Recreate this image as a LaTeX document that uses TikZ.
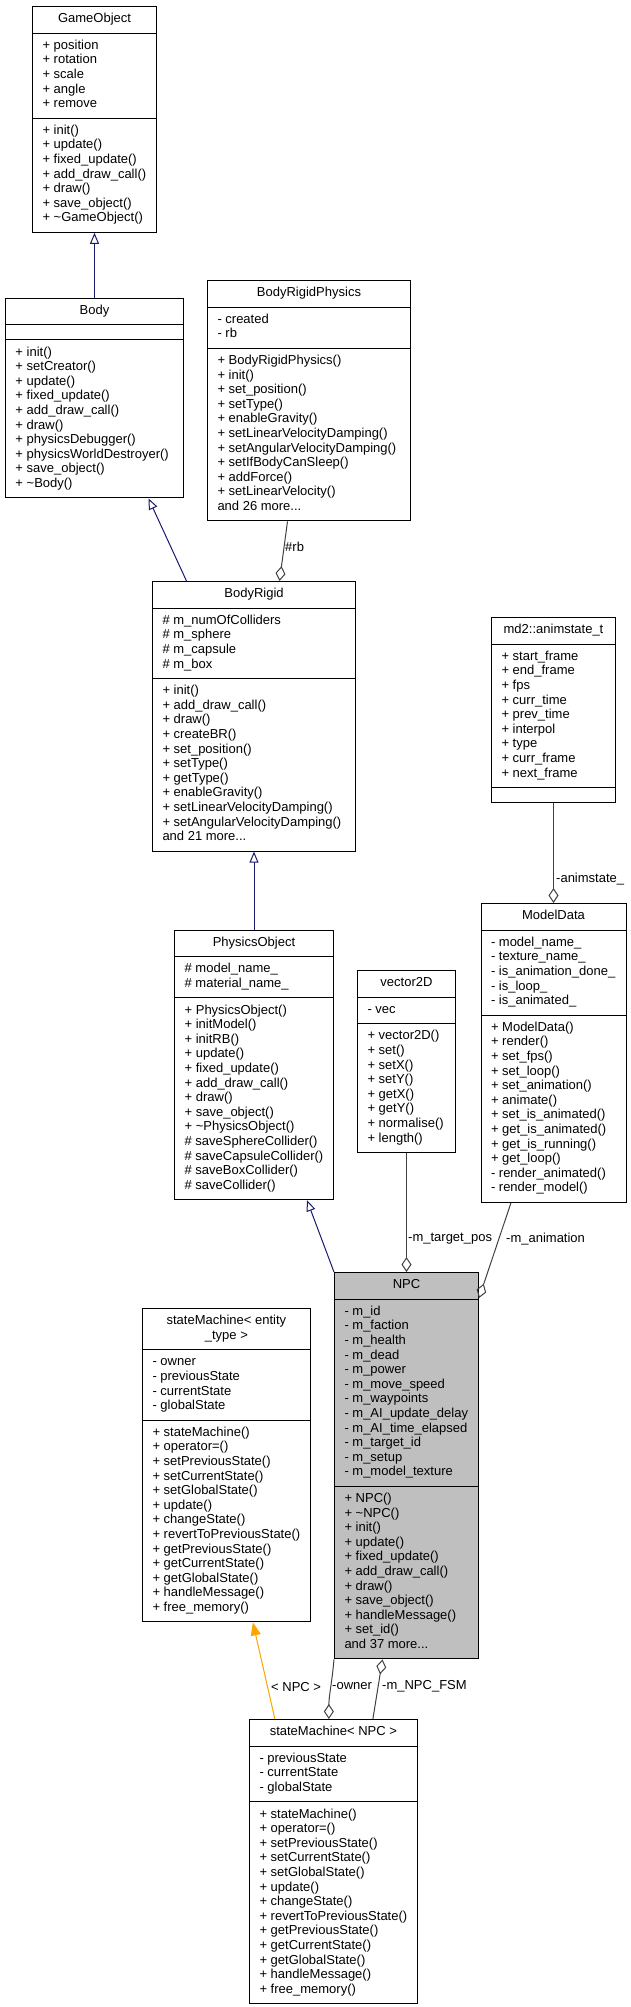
\documentclass[tikz,border=0pt]{standalone}
\usepackage{fontspec}
\setmainfont{Liberation Sans}
\usetikzlibrary{arrows.meta,positioning,shapes.multipart}
\usepackage{xcolor}
\definecolor{Inherit}{HTML}{191970}
\definecolor{Member}{HTML}{404040}
\definecolor{Templ}{HTML}{FFA500}
\definecolor{Focus}{HTML}{BFBFBF}
\newcommand{\members}[1]{\begin{tabular}{@{}l@{}}#1\end{tabular}}
\newcommand{\heading}[1]{\begin{tabular}{@{}c@{}}#1\end{tabular}}

\begin{document}
\begin{tikzpicture}[x=1pt,y=-1pt,
    cls/.style={draw=black,line width=1pt,fill=white,rectangle split,rectangle split parts=3,
      rectangle split part align={center,left,left},inner xsep=10pt,inner ysep=5.5pt,
      anchor=north west,font=\fontsize{13}{14.6}\selectfont},
    focus/.style={cls,fill=Focus},
    lbl/.style={inner sep=0pt,anchor=west,font=\fontsize{13}{14.6}\selectfont},
    inh/.style={-{Triangle[open,length=11pt,width=9pt]},draw=Inherit,line width=1pt},
    agg/.style={{Diamond[open,length=15pt,width=10pt]}-,draw=Member,line width=1pt},
    tpl/.style={-{Triangle[length=13pt,width=10pt]},draw=Templ,fill=Templ,line width=1pt}
  ]
    \useasboundingbox (0,0) rectangle (631,2007);
    % classes
    \node[cls,minimum width=124pt] (gameobject) at (32,6) {\heading{GameObject}\nodepart{two}\members{+ position\\+ rotation\\+ scale\\+ angle\\+ remove}\nodepart{three}\members{+ init()\\+ update()\\+ fixed\_update()\\+ add\_draw\_call()\\+ draw()\\+ save\_object()\\+ \textasciitilde GameObject()}};
    \node[cls,minimum width=178pt,below=65pt of gameobject] (body) {\heading{Body}\nodepart{two}\members{}\nodepart{three}\members{+ init()\\+ setCreator()\\+ update()\\+ fixed\_update()\\+ add\_draw\_call()\\+ draw()\\+ physicsDebugger()\\+ physicsWorldDestroyer()\\+ save\_object()\\+ \textasciitilde Body()}};
    \node[cls,minimum width=203pt] (brp) at (207,280) {\heading{BodyRigidPhysics}\nodepart{two}\members{- created\\- rb}\nodepart{three}\members{+ BodyRigidPhysics()\\+ init()\\+ set\_position()\\+ setType()\\+ enableGravity()\\+ setLinearVelocityDamping()\\+ setAngularVelocityDamping()\\+ setIfBodyCanSleep()\\+ addForce()\\+ setLinearVelocity()\\and 26 more...}};
    \node[cls,minimum width=203pt] (bodyrigid) at (152,581) {\heading{BodyRigid}\nodepart{two}\members{\# m\_numOfColliders\\\# m\_sphere\\\# m\_capsule\\\# m\_box}\nodepart{three}\members{+ init()\\+ add\_draw\_call()\\+ draw()\\+ createBR()\\+ set\_position()\\+ setType()\\+ getType()\\+ enableGravity()\\+ setLinearVelocityDamping()\\+ setAngularVelocityDamping()\\and 21 more...}};
    \node[cls,minimum width=158pt,below=78pt of bodyrigid] (physicsobject) {\heading{PhysicsObject}\nodepart{two}\members{\# model\_name\_\\\# material\_name\_}\nodepart{three}\members{+ PhysicsObject()\\+ initModel()\\+ initRB()\\+ update()\\+ fixed\_update()\\+ add\_draw\_call()\\+ draw()\\+ save\_object()\\+ \textasciitilde PhysicsObject()\\\# saveSphereCollider()\\\# saveCapsuleCollider()\\\# saveBoxCollider()\\\# saveCollider()}};
    \node[cls,minimum width=124pt] (animstate) at (491,617) {\heading{md2::animstate\_t}\nodepart{two}\members{+ start\_frame\\+ end\_frame\\+ fps\\+ curr\_time\\+ prev\_time\\+ interpol\\+ type\\+ curr\_frame\\+ next\_frame}\nodepart{three}\members{}};
    \node[cls,minimum width=145pt,below=100pt of animstate] (modeldata) {\heading{ModelData}\nodepart{two}\members{- model\_name\_\\- texture\_name\_\\- is\_animation\_done\_\\- is\_loop\_\\- is\_animated\_}\nodepart{three}\members{+ ModelData()\\+ render()\\+ set\_fps()\\+ set\_loop()\\+ set\_animation()\\+ animate()\\+ set\_is\_animated()\\+ get\_is\_animated()\\+ get\_is\_running()\\+ get\_loop()\\- render\_animated()\\- render\_model()}};
    \node[cls,minimum width=98pt] (vec) at (357,970) {\heading{vector2D}\nodepart{two}\members{- vec}\nodepart{three}\members{+ vector2D()\\+ set()\\+ setX()\\+ setY()\\+ getX()\\+ getY()\\+ normalise()\\+ length()}};
    \node[focus,minimum width=144pt] (npc) at (334,1272) {\heading{NPC}\nodepart{two}\members{- m\_id\\- m\_faction\\- m\_health\\- m\_dead\\- m\_power\\- m\_move\_speed\\- m\_waypoints\\- m\_AI\_update\_delay\\- m\_AI\_time\_elapsed\\- m\_target\_id\\- m\_setup\\- m\_model\_texture}\nodepart{three}\members{+ NPC()\\+ \textasciitilde NPC()\\+ init()\\+ update()\\+ fixed\_update()\\+ add\_draw\_call()\\+ draw()\\+ save\_object()\\+ handleMessage()\\+ set\_id()\\and 37 more...}};
    \node[cls,minimum width=167pt] (smentity) at (142,1308) {\heading{stateMachine< entity\\\_type >}\nodepart{two}\members{- owner\\- previousState\\- currentState\\- globalState}\nodepart{three}\members{+ stateMachine()\\+ operator=()\\+ setPreviousState()\\+ setCurrentState()\\+ setGlobalState()\\+ update()\\+ changeState()\\+ revertToPreviousState()\\+ getPreviousState()\\+ getCurrentState()\\+ getGlobalState()\\+ handleMessage()\\+ free\_memory()}};
    \node[cls,minimum width=167pt] (smnpc) at (249,1719) {\heading{stateMachine< NPC >}\nodepart{two}\members{- previousState\\- currentState\\- globalState}\nodepart{three}\members{+ stateMachine()\\+ operator=()\\+ setPreviousState()\\+ setCurrentState()\\+ setGlobalState()\\+ update()\\+ changeState()\\+ revertToPreviousState()\\+ getPreviousState()\\+ getCurrentState()\\+ getGlobalState()\\+ handleMessage()\\+ free\_memory()}};
    % inheritance
    \draw[inh] (body.north) -- (gameobject.south);
    \draw[inh] ([xshift=-67.5pt]bodyrigid.north) -- ([xshift=54pt]body.south);
    \draw[inh] (physicsobject.north) -- (bodyrigid.south);
    \draw[inh] (npc.north west) -- ([xshift=53pt]physicsobject.south);
    \draw[tpl] ([xshift=-58.5pt]smnpc.north) -- ([xshift=26.5pt]smentity.south);
    % members
    \draw[agg] ([xshift=25.5pt]bodyrigid.north) -- ([xshift=-21.5pt]brp.south);
    \draw[agg] (modeldata.north) -- (animstate.south);
    \draw[agg] (npc.north) -- (vec.south);
    \draw[agg] ([yshift=-26pt]npc.north east) -- ([xshift=-42.5pt]modeldata.south);
    \draw[agg] ([xshift=-24pt]npc.south) -- ([xshift=39.5pt]smnpc.north);
    \draw[agg] ([xshift=-4.5pt]smnpc.north) to[out=90,in=-95] (npc.south west);
    % labels
    \node[lbl] (rblbl) at (285,547) {\#rb};
    \node[lbl] (animlbl) at (556,879) {-animstate\_};
    \node[lbl] (poslbl) at (408,1239) {-m\_target\_pos};
    \node[lbl] (animationlbl) at (506,1239) {-m\_animation};
    \node[lbl] (tpllbl) at (271,1687) {< NPC >};
    \node[lbl] (ownerlbl) at (332,1686) {-owner};
    \node[lbl] (fsmlbl) at (382,1686) {-m\_NPC\_FSM};
\end{tikzpicture}
\end{document}
